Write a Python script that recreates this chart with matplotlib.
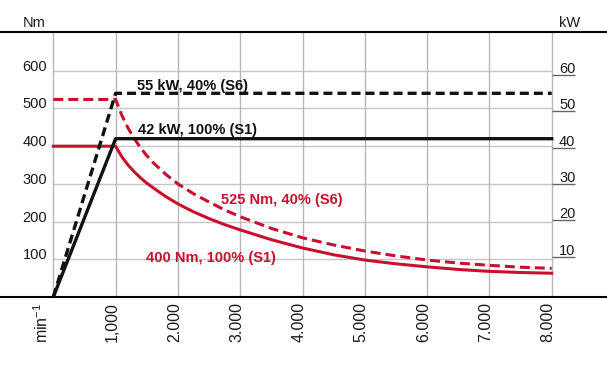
import matplotlib
matplotlib.use('Agg')
import matplotlib.pyplot as plt
from matplotlib.transforms import offset_copy

plt.rcParams['font.family'] = ['Liberation Sans', 'DejaVu Sans']
plt.rcParams['mathtext.fontset'] = 'custom'
plt.rcParams['mathtext.rm'] = 'Liberation Sans'
plt.rcParams['mathtext.it'] = 'Liberation Sans:italic'
plt.rcParams['mathtext.bf'] = 'Liberation Sans:bold'
plt.rcParams['lines.scale_dashes'] = False

# ---------------- data ----------------
rpm_s1 = [0, 1000, 1100, 1200, 1300, 1400, 1500, 1600, 1800, 2000, 2250, 2500, 2750,
          3000, 3500, 4000, 4500, 5000, 5500, 6000, 6500, 7000, 7500, 8000]
torque_s1 = [400, 400, 372, 350, 332, 316, 302, 290, 267, 247, 226, 208, 192,
             178, 152, 130, 112, 98, 88, 80, 73, 68, 65, 63]

rpm_s6 = [0, 1000, 1100, 1200, 1300, 1400, 1500, 1600, 1800, 2000, 2250, 2500, 2750,
          3000, 3500, 4000, 4500, 5000, 5500, 6000, 6500, 7000, 7500, 8000]
torque_s6 = [524, 524, 482, 448, 420, 396, 375, 357, 326, 300, 274, 252, 231,
             213, 182, 157, 138, 122, 109, 98, 90, 84, 79, 76]

rpm_power = [0, 1000, 8000]
power_s1 = [-1.1, 42.5, 42.5]
power_s6 = [-1.1, 55, 55]

x_ticks = [1000, 2000, 3000, 4000, 5000, 6000, 7000, 8000]
x_labels = ['1,000', '2.000', '3.000', '4.000', '5.000', '6.000', '7.000', '8.000']
nm_ticks = [100, 200, 300, 400, 500, 600]
kw_ticks = [10, 20, 30, 40, 50, 60]

label_s1_torque = '400 Nm, 100% (S1)'
label_s6_torque = '525 Nm, 40% (S6)'
label_s1_power = '42 kW, 100% (S1)'
label_s6_power = '55 kW, 40% (S6)'

# ---------------- figure ----------------
RED = '#c8102e'
BLK = '#111111'
GRID = '#c6c6c6'
TXT = '#1a1a1a'

fig = plt.figure(figsize=(6.07, 3.70), dpi=100)
ax = fig.add_axes([0, (370 - 297) / 370, 1, (297 - 32.3) / 370])
ax.set_xlim(-855.5, 8887.6)
ax.set_ylim(0, 702.1)
ax2 = ax.twinx()
ax2.set_ylim(-1.1, 71.8)

for a in (ax, ax2):
    a.set_xticks([])
    a.set_yticks([])
    for s in ('left', 'right'):
        a.spines[s].set_visible(False)
for s in ('top', 'bottom'):
    ax.spines[s].set_color('black')
    ax.spines[s].set_linewidth(1.5)
    ax2.spines[s].set_visible(False)

# grid
ax.hlines(nm_ticks, 0, 8000, color=GRID, lw=1.0, zorder=1)
ax.vlines([0] + x_ticks, 0, 702.1, color='#b8b8b8', lw=1.0, zorder=1)

# right ticks
ax2.hlines(kw_ticks, 8000, 8374, color='#666666', lw=1.0, zorder=1)
tr_r = offset_copy(ax2.transData, fig=fig, x=0, y=2, units='dots')
for k in kw_ticks:
    ax2.text(8117, k, str(k), transform=tr_r, ha='left', va='baseline',
             fontsize=10.5, color=TXT)

# left labels
for v in nm_ticks:
    ax.text(-101, v, str(v), ha='right', va='baseline', fontsize=10.5, color=TXT)

# x labels
tr_x = offset_copy(ax.transData, fig=fig, x=1, y=-4.7, units='dots')
for x, lab in zip(x_ticks, x_labels):
    ax.text(x, 0, lab, transform=tr_x, rotation=90, rotation_mode='anchor',
            ha='right', va='baseline', fontsize=11.5, color=TXT)
tr_m = offset_copy(ax.transData, fig=fig, x=0, y=-6, units='dots')
ax.text(-80, 0, 'min$^{-1}$', transform=tr_m, rotation=90, rotation_mode='anchor',
        ha='right', va='baseline', fontsize=11.5, color=TXT)

# axis titles
fig.text(23 / 607, 1 - 27.3 / 370, 'Nm', ha='left', va='baseline', fontsize=10.5, color=TXT)
fig.text(559 / 607, 1 - 27.3 / 370, 'kW', ha='left', va='baseline', fontsize=10.5, color=TXT)

# curves
ax.plot(rpm_s1, torque_s1, color=RED, lw=2.2, solid_joinstyle='round', zorder=3)
ax.plot(rpm_s6, torque_s6, color=RED, lw=2.2, dashes=(7.2, 3.6), zorder=3)
ax2.plot(rpm_power, power_s1, color=BLK, lw=2.4, zorder=4)
ax2.plot(rpm_power, power_s6, color=BLK, lw=2.4, dashes=(6.5, 3.6), zorder=4)

# curve labels
ax.text(1348, 549, label_s6_power, ha='left', va='baseline', fontsize=10.5,
        fontweight='bold', color=BLK)
ax.text(1364, 432.4, label_s1_power, ha='left', va='baseline', fontsize=10.5,
        fontweight='bold', color=BLK)
ax.text(2692, 246.7, label_s6_torque, ha='left', va='baseline', fontsize=10.5,
        fontweight='bold', color=RED)
ax.text(1488, 93.6, label_s1_torque, ha='left', va='baseline', fontsize=10.5,
        fontweight='bold', color=RED)

fig.savefig('out.png', dpi=100)
